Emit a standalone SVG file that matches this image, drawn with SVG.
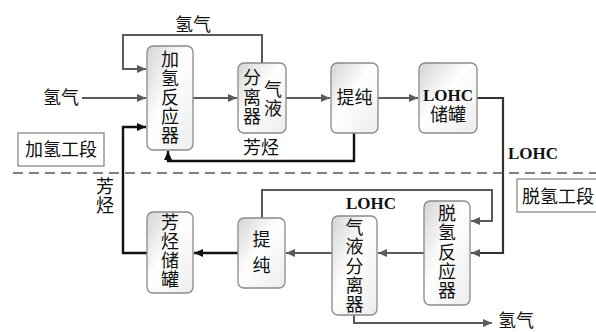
<svg xmlns="http://www.w3.org/2000/svg" width="596" height="332" viewBox="0 0 596 332">
<defs>
<linearGradient id="g" x1="0" y1="0" x2="1" y2="1">
<stop offset="0" stop-color="#d4d4d4"/>
<stop offset="0.45" stop-color="#ffffff"/>
<stop offset="1" stop-color="#ececec"/>
</linearGradient>
<marker id="ag" markerWidth="9" markerHeight="8" refX="9" refY="4" orient="auto" markerUnits="userSpaceOnUse">
<path d="M0,0 L9,4 L0,8 Z" fill="#5a5a5a"/>
</marker>
<marker id="ak" markerWidth="9" markerHeight="8" refX="9" refY="4" orient="auto" markerUnits="userSpaceOnUse">
<path d="M0,0 L9,4 L0,8 Z" fill="#111"/>
</marker>
</defs>
<style>
.box{fill:url(#g);stroke:#8a8a8a;stroke-width:1.3}
.lbl{fill:#fff;stroke:#888;stroke-width:1.3}
text{font-family:"Liberation Serif","Noto Sans CJK SC",serif;font-size:18px;fill:#111;text-anchor:middle;dominant-baseline:central}
.b{font-weight:bold;font-size:17px}
.g{fill:none;stroke:#5a5a5a;stroke-width:2}
.k{fill:none;stroke:#111;stroke-width:2.4}
</style>
<rect width="596" height="332" fill="#fff"/>
<g id="connectors">
<path class="g" d="M262,63 V35 H123 V69 H146" marker-end="url(#ag)"/>
<path class="g" d="M82,98 H146" marker-end="url(#ag)"/>
<path class="g" d="M193,98 H237" marker-end="url(#ag)"/>
<path class="g" d="M286,98 H330" marker-end="url(#ag)"/>
<path class="g" d="M378,98 H418" marker-end="url(#ag)"/>
<path class="k" d="M354,133 V161 H168 V151" marker-end="url(#ak)"/>
<path class="k" d="M147,253 H123 V127 H146" marker-end="url(#ak)"/>
<path fill="none" stroke="#333" stroke-width="2.2" d="M477,98 H503 V253 H471" marker-end="url(#ag)"/>
<path class="g" d="M262,218 V190 H492 V221 H471" marker-end="url(#ag)"/>
<path class="g" d="M424,253 H378" marker-end="url(#ag)"/>
<path class="g" d="M332,253 H286" marker-end="url(#ag)"/>
<path class="k" d="M238,253 H194" marker-end="url(#ak)"/>
<path class="g" d="M354,315 V323 H492" marker-end="url(#ag)"/>
<line x1="13" y1="173" x2="596" y2="173" stroke="#555" stroke-width="1.6" stroke-dasharray="10,6"/>
</g>
<g id="h2-top-label"><text x="193" y="25">氢气</text></g>
<g id="h2-in-label"><text x="61" y="98">氢气</text></g>
<g id="arom-top-label"><text x="261" y="148">芳烃</text></g>
<g id="arom-left-label"><text x="105" y="187">芳</text><text x="105" y="206">烃</text></g>
<g id="lohc-right-label"><text class="b" x="533" y="153">LOHC</text></g>
<g id="lohc-bottom-label"><text class="b" x="371" y="203">LOHC</text></g>
<g id="h2-out-label"><text x="516" y="321">氢气</text></g>
<g id="hydro-section"><rect class="lbl" x="18" y="133" width="86" height="33"/><text x="61" y="150">加氢工段</text></g>
<g id="dehydro-section"><rect class="lbl" x="517" y="179" width="86" height="33"/><text x="558" y="197">脱氢工段</text></g>
<g id="reactor">
<rect class="box" x="147" y="46" width="46" height="104" rx="6"/>
<text x="170" y="60">加</text><text x="170" y="79">氢</text><text x="170" y="98">反</text><text x="170" y="117">应</text><text x="170" y="136">器</text>
</g>
<g id="separator-top">
<rect class="box" x="238" y="63" width="48" height="70" rx="6"/>
<text x="252" y="78">分</text><text x="252" y="97.5">离</text><text x="252" y="117">器</text>
<text x="273" y="90">气</text><text x="273" y="109">液</text>
</g>
<g id="purify-top">
<rect class="box" x="331" y="63" width="47" height="70" rx="6"/>
<text x="354.5" y="98">提纯</text>
</g>
<g id="lohc-tank">
<rect class="box" x="419" y="63" width="58" height="70" rx="6"/>
<text class="b" x="448" y="95">LOHC</text><text x="448" y="115">储罐</text>
</g>
<g id="dehydro-reactor">
<rect class="box" x="424" y="201" width="46" height="104" rx="6"/>
<text x="447" y="214">脱</text><text x="447" y="233">氢</text><text x="447" y="252.5">反</text><text x="447" y="272">应</text><text x="447" y="291">器</text>
</g>
<g id="separator-bottom">
<rect class="box" x="332" y="216" width="45" height="99" rx="6"/>
<text x="354.5" y="228">气</text><text x="354.5" y="247">液</text><text x="354.5" y="266.5">分</text><text x="354.5" y="286">离</text><text x="354.5" y="305">器</text>
</g>
<g id="purify-bottom">
<rect class="box" x="238" y="218" width="47" height="70" rx="6"/>
<text x="261.5" y="240">提</text><text x="261.5" y="266">纯</text>
</g>
<g id="arom-tank">
<rect class="box" x="147" y="212" width="46" height="81" rx="6"/>
<text x="170" y="223">芳</text><text x="170" y="242">烃</text><text x="170" y="261">储</text><text x="170" y="280">罐</text>
</g>
</svg>
